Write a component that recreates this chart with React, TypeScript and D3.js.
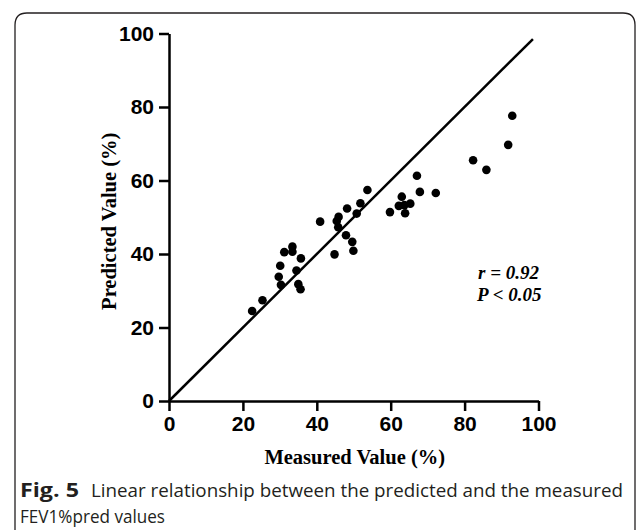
import React, { useEffect, useRef } from 'react';
import * as d3 from 'd3';

// measured vs predicted FEV1%pred
const measured = [22.5, 25.3, 30.1, 29.7, 30.3, 34.5, 35.0, 35.6, 35.7, 31.2, 33.4, 33.4, 40.9, 45.9, 45.4, 45.8, 47.9, 49.6, 49.9, 44.8, 48.2, 50.8, 51.8, 53.7, 59.8, 62.2, 63.7, 65.3, 63.0, 63.9, 67.1, 67.9, 72.2, 82.3, 85.9, 91.8, 92.9];
const predicted = [24.5, 27.4, 36.8, 33.8, 31.6, 35.5, 31.8, 30.4, 38.8, 40.5, 42.0, 40.6, 48.8, 50.1, 49.0, 47.3, 45.1, 43.3, 40.9, 39.9, 52.4, 51.0, 53.8, 57.4, 51.4, 53.1, 53.3, 53.7, 55.6, 51.1, 61.3, 56.9, 56.6, 65.5, 62.9, 69.7, 77.6];
const ticks = [0, 20, 40, 60, 80, 100];
const identityLine = [0, 98.5];

const W = 636, H = 530;

export default function App() {
  const ref = useRef<SVGSVGElement>(null);

  useEffect(() => {
    const svg = d3.select(ref.current);
    svg.selectAll('*').remove();

    const x = d3.scaleLinear().domain([0, 100]).range([169, 538.5]);
    const y = d3.scaleLinear().domain([0, 100]).range([401, 33.5]);

    // frame around the figure
    svg.append('path')
      .attr('d', `M15,${H + 5} L15,25 Q15,13 27,13 L623,13 Q635,13 635,25 L635,${H + 5}`)
      .attr('fill', 'none').attr('stroke', '#231f20').attr('stroke-width', 1.3);

    const styleAxis = (g: any) => {
      g.selectAll('path, line').attr('stroke', '#000').attr('stroke-width', 2.5);
      g.selectAll('text')
        .attr('fill', '#000')
        .attr('font-family', '"Liberation Sans", Arial, sans-serif')
        .attr('font-weight', 'bold')
        .attr('font-size', 21);
    };

    svg.append('g')
      .attr('transform', `translate(0,${y(0)})`)
      .call(d3.axisBottom(x).tickValues(ticks).tickSize(10).tickSizeOuter(0).tickPadding(5))
      .call(styleAxis);

    svg.append('g')
      .attr('transform', `translate(${x(0)},0)`)
      .call(d3.axisLeft(y).tickValues(ticks).tickSize(10).tickSizeOuter(0).tickPadding(5))
      .call(styleAxis);

    // line of identity
    svg.append('line')
      .attr('x1', x(identityLine[0])).attr('y1', y(identityLine[0]))
      .attr('x2', x(identityLine[1])).attr('y2', y(identityLine[1]))
      .attr('stroke', '#000').attr('stroke-width', 2.5);

    svg.append('g').selectAll('circle')
      .data(measured)
      .join('circle')
      .attr('cx', d => x(d))
      .attr('cy', (d, i) => y(predicted[i]))
      .attr('r', 4.3)
      .attr('fill', '#000');

    // axis titles
    svg.append('text')
      .attr('x', (x(0) + x(100)) / 2 + 1).attr('y', 464)
      .attr('text-anchor', 'middle')
      .attr('font-family', '"Liberation Serif", "Times New Roman", serif')
      .attr('font-weight', 'bold').attr('font-size', 20.5)
      .text('Measured Value (%)');

    svg.append('text')
      .attr('transform', `translate(116,${(y(0) + y(100)) / 2 + 4}) rotate(-90)`)
      .attr('text-anchor', 'middle')
      .attr('font-family', '"Liberation Serif", "Times New Roman", serif')
      .attr('font-weight', 'bold').attr('font-size', 20.5)
      .text('Predicted Value (%)');

    // stats
    const stats = svg.append('text')
      .attr('font-family', '"Liberation Serif", "Times New Roman", serif')
      .attr('font-weight', 'bold').attr('font-style', 'italic').attr('font-size', 19);
    stats.append('tspan').attr('x', 478).attr('y', 279).text('r = 0.92');
    stats.append('tspan').attr('x', 477).attr('y', 301).text('P < 0.05');

    // caption
    const cap = svg.append('g')
      .attr('font-family', '"Open Sans", "Noto Sans", sans-serif')
      .attr('fill', '#231f20');
    cap.append('text').attr('x', 20).attr('y', 497).attr('font-weight', 'bold').attr('font-size', 19.5)
      .attr('textLength', 59).attr('lengthAdjust', 'spacingAndGlyphs').text('Fig. 5');
    cap.append('text').attr('x', 91).attr('y', 497).attr('font-size', 18.5)
      .attr('textLength', 532).attr('lengthAdjust', 'spacingAndGlyphs')
      .text('Linear relationship between the predicted and the measured');
    cap.append('text').attr('x', 20).attr('y', 523).attr('font-size', 18.5)
      .attr('textLength', 145).attr('lengthAdjust', 'spacingAndGlyphs')
      .text('FEV1%pred values');
  }, []);

  return (
    <div style={{ position: 'absolute', left: 0, top: 0 }}>
      <svg ref={ref} width={W} height={H} style={{ display: 'block', background: '#fff' }} />
    </div>
  );
}
